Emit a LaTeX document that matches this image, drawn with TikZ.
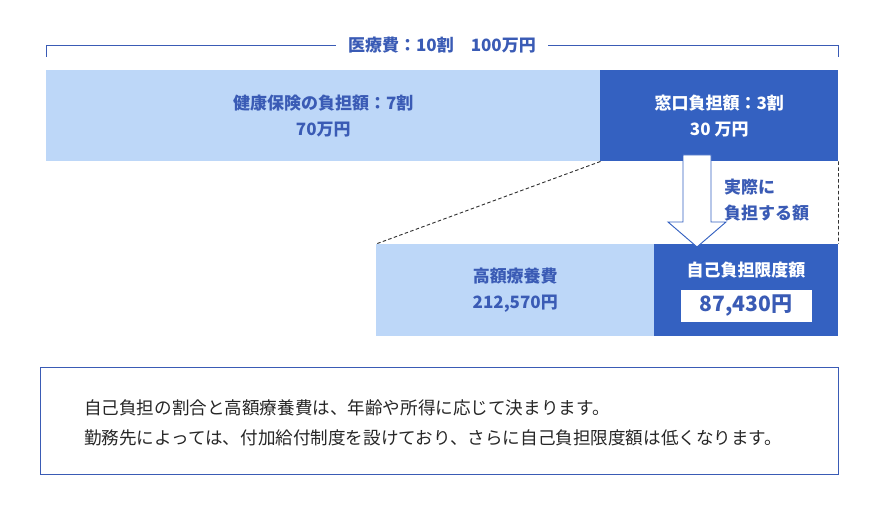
\documentclass[tikz,border=0pt]{standalone}
\usepackage{fontspec}
\setmainfont{Noto Sans CJK JP}
\usetikzlibrary{positioning}
\definecolor{pale}{HTML}{BDD7F8}
\definecolor{deep}{HTML}{3461C1}
\definecolor{ink}{HTML}{3A5BB5}
\tikzset{%
  bar/.style={draw=none, inner sep=0pt, anchor=north west},
  label/.style={font=\bfseries\fontsize{14.5}{22}\selectfont, align=center},
}
\begin{document}
\begin{tikzpicture}[x=0.03cm,y=-0.03cm,>=latex]
  \useasboundingbox (0,0) rectangle (885,515);
  \tikzstyle{guide}=[densely dashed,thick,black!80]

  % top bracket
  \node[label,text=ink,inner xsep=10pt] (total) at (442,45) {医療費：10割\quad 100万円};
  \coordinate (bl) at (46,57);
  \coordinate (br) at (838,57);
  \draw[ink,thick] (bl) |- (total.west);
  \draw[ink,thick] (br) |- (total.east);

  % upper bars
  \node[bar,fill=pale,minimum width=16.62cm,minimum height=2.73cm] (insure) at (46,70) {};
  \node[bar,fill=deep,minimum width=7.14cm,minimum height=2.73cm] (window) at (600,70) {};
  \node[label,text=ink] at (insure.center) {健康保険の負担額：7割\\70万円};
  \node[label,text=white] at (window.center) {窓口負担額：3割\\30 万円};

  % lower bars
  \node[bar,fill=pale,minimum width=8.34cm,minimum height=2.76cm] (kogaku) at (376,244) {};
  \node[bar,fill=deep,minimum width=5.52cm,minimum height=2.76cm] (limit) at (654,244) {};
  \node[label,text=ink] at (kogaku.center) {高額療養費\\212,570円};
  \node[label,text=white] (limittxt) at (746,270) {自己負担限度額};
  \node[fill=white,minimum width=3.93cm,minimum height=0.96cm,
        font=\bfseries\fontsize{18}{20}\selectfont,text=ink] (amount) at (746,306) {87,430円};

  % dashed guides
  \draw[guide] (insure.south east) -- (kogaku.north west);
  \draw[guide] (window.south east) -- (limit.north east);

  % hollow arrow
  \draw[deep,thick,fill=white] (683,155) -- (711,155) -- (711,222) -- (726,222)
    -- (697,247) -- (668,222) -- (683,222) -- cycle;
  \node[label,text=ink,align=left,anchor=west] (real) at (720,200) {実際に\\負担する額};

  % note box
  \node[bar,draw=ink,thick,minimum width=23.94cm,minimum height=3.21cm] (note) at (40,367) {};
  \node[anchor=west,align=left,font=\fontsize{15}{25.5}\selectfont,text=black!85] at (80,423)
    {自己負担の割合と高額療養費は、年齢や所得に応じて決まります。\\
     勤務先によっては、付加給付制度を設けており、さらに自己負担限度額は低くなります。};
\end{tikzpicture}
\end{document}
